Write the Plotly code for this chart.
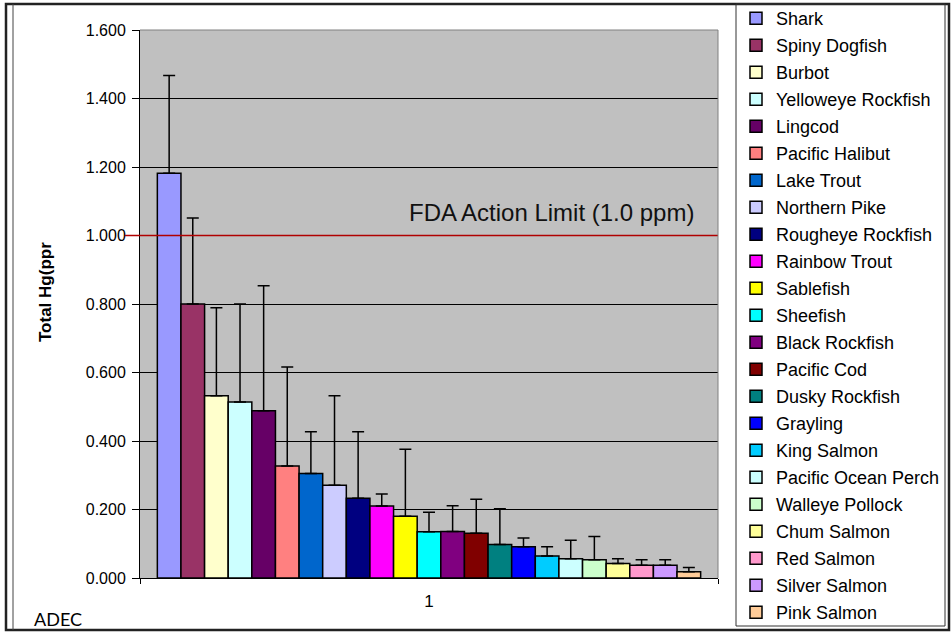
import plotly.graph_objects as go

species = ["Shark", "Spiny Dogfish", "Burbot", "Yelloweye Rockfish", "Lingcod",
           "Pacific Halibut", "Lake Trout", "Northern Pike", "Rougheye Rockfish",
           "Rainbow Trout", "Sablefish", "Sheefish", "Black Rockfish", "Pacific Cod",
           "Dusky Rockfish", "Grayling", "King Salmon", "Pacific Ocean Perch",
           "Walleye Pollock", "Chum Salmon", "Red Salmon", "Silver Salmon", "Pink Salmon"]
mean_hg = [1.182, 0.800, 0.532, 0.514, 0.488, 0.327, 0.305, 0.271, 0.233, 0.210,
           0.180, 0.135, 0.136, 0.131, 0.098, 0.091, 0.064, 0.056, 0.053, 0.042,
           0.037, 0.037, 0.018]
upper_hg = [1.467, 1.051, 0.789, 0.800, 0.853, 0.616, 0.427, 0.532, 0.427, 0.245,
            0.376, 0.192, 0.211, 0.230, 0.202, 0.117, 0.091, 0.110, 0.121, 0.056,
            0.053, 0.053, 0.031]
colors = ["#9999FF", "#993366", "#FFFFCC", "#CCFFFF", "#660066", "#FF8080", "#0066CC",
          "#CCCCFF", "#000080", "#FF00FF", "#FFFF00", "#00FFFF", "#800080", "#800000",
          "#008080", "#0000FF", "#00CCFF", "#CCFFFF", "#CCFFCC", "#FFFF99", "#FF99CC",
          "#CC99FF", "#FFCC99"]
category = ["1"]
fda_limit = 1.0
y_ticks = [0.0, 0.2, 0.4, 0.6, 0.8, 1.0, 1.2, 1.4, 1.6]

W, H = 951, 634
L, R, T, B = 140, 718, 30, 578

def px(x):
    return (x - L) / (R - L)
def py(y):
    return (B - y) / (B - T)

fig = go.Figure()
for name, m, u, c in zip(species, mean_hg, upper_hg, colors):
    fig.add_trace(go.Bar(
        x=category, y=[m], name=name, legendgroup=name,
        marker=dict(color=c, line=dict(color="black", width=1.5)),
        error_y=dict(type="data", symmetric=False, array=[u - m], arrayminus=[0],
                     color="black", thickness=1.5, width=6),
    ))

fig.add_shape(type="line", xref="paper", yref="y", x0=px(125), x1=1,
              y0=fda_limit, y1=fda_limit, line=dict(color="#B00000", width=1.5), layer="above")
# plot area top/right border
fig.add_shape(type="line", xref="paper", yref="paper", x0=0, x1=1, y0=1, y1=1,
              line=dict(color="#808080", width=1))
fig.add_shape(type="line", xref="paper", yref="paper", x0=1, x1=1, y0=0, y1=1,
              line=dict(color="#808080", width=1))
# outer frames and legend box
fig.add_shape(type="rect", xref="paper", yref="paper", x0=px(6), x1=px(949), y0=py(4), y1=py(630),
              line=dict(color="#222222", width=2.5))
fig.add_shape(type="line", xref="paper", yref="paper", x0=px(13), x1=px(13), y0=py(4), y1=py(630),
              line=dict(color="#444444", width=1))
fig.add_shape(type="rect", xref="paper", yref="paper", x0=px(736), x1=px(945), y0=py(4), y1=py(626),
              line=dict(color="#333333", width=1))

fig.add_annotation(text="FDA Action Limit (1.0 ppm)", xref="paper", yref="y",
                   x=px(551), y=1.066, xanchor="center", yanchor="middle", showarrow=False,
                   font=dict(family="Liberation Sans", size=24, color="#111111"))
fig.add_annotation(text="<b>Total Hg(ppr</b>", xref="paper", yref="paper",
                   x=px(45), y=py(292), xanchor="center", yanchor="middle",
                   textangle=-90, showarrow=False,
                   font=dict(family="Liberation Sans", size=17, color="black"))
fig.add_annotation(text="ADEC", xref="paper", yref="paper", x=px(32), y=py(619),
                   xanchor="left", yanchor="middle", showarrow=False,
                   font=dict(family="Lato", size=18, color="black"))

fig.update_layout(
    width=W, height=H,
    margin=dict(l=L, r=W - R, t=T, b=H - B, pad=0, autoexpand=False),
    paper_bgcolor="white", plot_bgcolor="#C0C0C0",
    barmode="group", bargap=0.06, bargroupgap=0,
    font=dict(family="Liberation Sans", color="black"),
    showlegend=True,
    legend=dict(x=px(736), y=py(0), xanchor="left", yanchor="top",
                borderwidth=0, bgcolor="rgba(0,0,0,0)",
                font=dict(family="Liberation Sans", size=18, color="black"),
                traceorder="grouped", tracegroupgap=0.6, itemclick=False,
                maxheight=700),
    xaxis=dict(type="category", showline=True, linecolor="black", linewidth=1,
               ticks="outside", tickson="boundaries", ticklen=5, tickcolor="black",
               tickfont=dict(family="Liberation Sans", size=17, color="black"),
               ticklabelstandoff=8, showgrid=False),
    yaxis=dict(range=[0, 1.6], tickvals=y_ticks, tickformat=".3f",
               showline=True, linecolor="black", linewidth=1,
               ticks="outside", ticklen=7, tickcolor="black",
               tickfont=dict(family="Liberation Sans", size=16, color="black"),
               ticklabelstandoff=3,
               showgrid=True, gridcolor="black", gridwidth=1, zeroline=False),
)

fig.write_html("out.html", config={"displayModeBar": False},
               post_script="document.body.style.margin='0';")
